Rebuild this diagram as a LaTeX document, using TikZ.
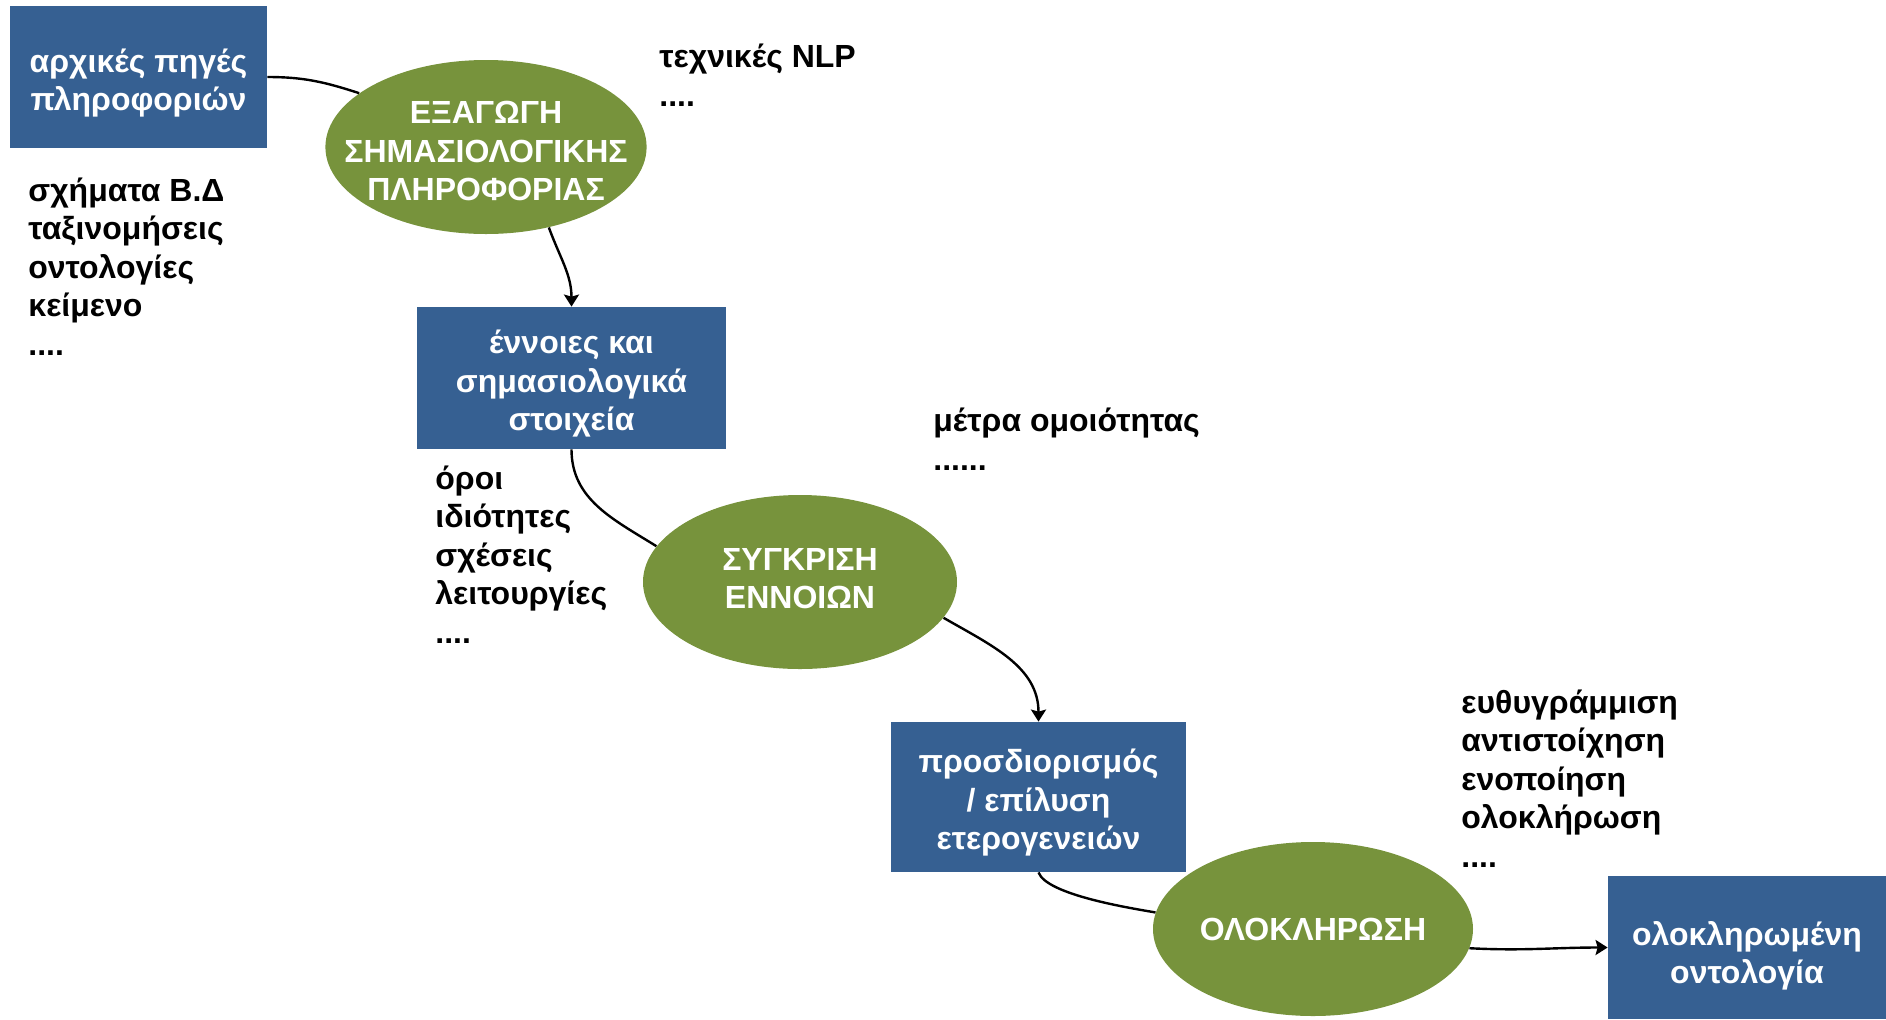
\documentclass[tikz,border=0pt]{standalone}
\usepackage{fontspec}
\setmainfont{Liberation Sans}
\usepackage{xcolor}
\usepackage{tikz}
\usetikzlibrary{arrows.meta,shapes.geometric}

\definecolor{boxblue}{RGB}{54,96,146}
\definecolor{stagegreen}{RGB}{119,147,60}

\begin{document}
\begin{tikzpicture}[x=0.5pt, y=-0.5pt,
  box/.style={fill=boxblue, text=white, align=center, inner sep=0pt, text depth=0pt,
    font=\bfseries\fontsize{16}{19.25}\selectfont},
  stage/.style={ellipse, fill=stagegreen, text=white, align=center, inner sep=0pt,
    minimum width=157pt, minimum height=87pt,
    font=\bfseries\fontsize{16}{19.25}\selectfont},
  note/.style={anchor=base west, align=left, inner sep=0pt,
    font=\bfseries\fontsize{16}{19.25}\selectfont},
  link/.style={line width=1.2pt},
  flow/.style={line width=1.2pt, -{Stealth[length=6pt, width=7.5pt, inset=1pt]}}]

\useasboundingbox (0,0) rectangle (1886,1019);

% Sources and extraction
\node[box, minimum width=128.5pt, minimum height=71pt, text height=33.5pt] (sources) at (138.5,77) {αρχικές πηγές\\πληροφοριών};
\node[stage, inner xsep=-14pt, text height=53.8pt, text depth=0pt] (extract) at (486,147) {ΕΞΑΓΩΓΗ\\ΣΗΜΑΣΙΟΛΟΓΙΚΗΣ\\ΠΛΗΡΟΦΟΡΙΑΣ};
\node[note] (srclist) at (28,355) {σχήματα Β.Δ\\ταξινομήσεις\\οντολογίες\\κείμενο\\....};
\node[note] (nlp) at (659,106) {τεχνικές NLP\\....};

% Concepts and comparison
\node[box, minimum width=154.5pt, minimum height=71pt, text height=52.5pt] (concepts) at (571.5,378) {έννοιες και\\σημασιολογικά\\στοιχεία};
\node[stage, text depth=3.6pt] (compare) at (800,582) {ΣΥΓΚΡΙΣΗ\\ΕΝΝΟΙΩΝ};
\node[note] (conlist) at (435,643) {όροι\\ιδιότητες\\σχέσεις\\λειτουργίες\\....};
\node[note] (sim) at (933,470) {μέτρα ομοιότητας\\......};

% Heterogeneities and integration
\node[box, minimum width=147.5pt, minimum height=75pt, text height=52.5pt] (hetero) at (1038.5,797) {προσδιορισμός\\/ επίλυση\\ετερογενειών};
\node[stage] (integrate) at (1313,929) {ΟΛΟΚΛΗΡΩΣΗ};
\node[note] (intlist) at (1461,867) {ευθυγράμμιση\\αντιστοίχηση\\ενοποίηση\\ολοκλήρωση\\....};
\node[box, minimum width=139pt, minimum height=71.5pt, text height=36pt] (result) at (1747,947.5) {ολοκληρωμένη\\οντολογία};

% Connectors
\draw[link] (sources.east) to[out=0, in=162] (extract.157);
\draw[flow] (extract.-52) to[out=-70, in=90] (concepts.north);
\draw[link] (concepts.south) to[out=-90, in=148] (compare.166);
\draw[flow] (compare.-14) to[out=-30, in=90] (hetero.north);
\draw[link] (hetero.south) to[out=-70, in=170, looseness=0.5] (integrate.174);
\draw[flow] (integrate.-7) to[out=-3, in=180] (result.west);

\end{tikzpicture}
\end{document}
